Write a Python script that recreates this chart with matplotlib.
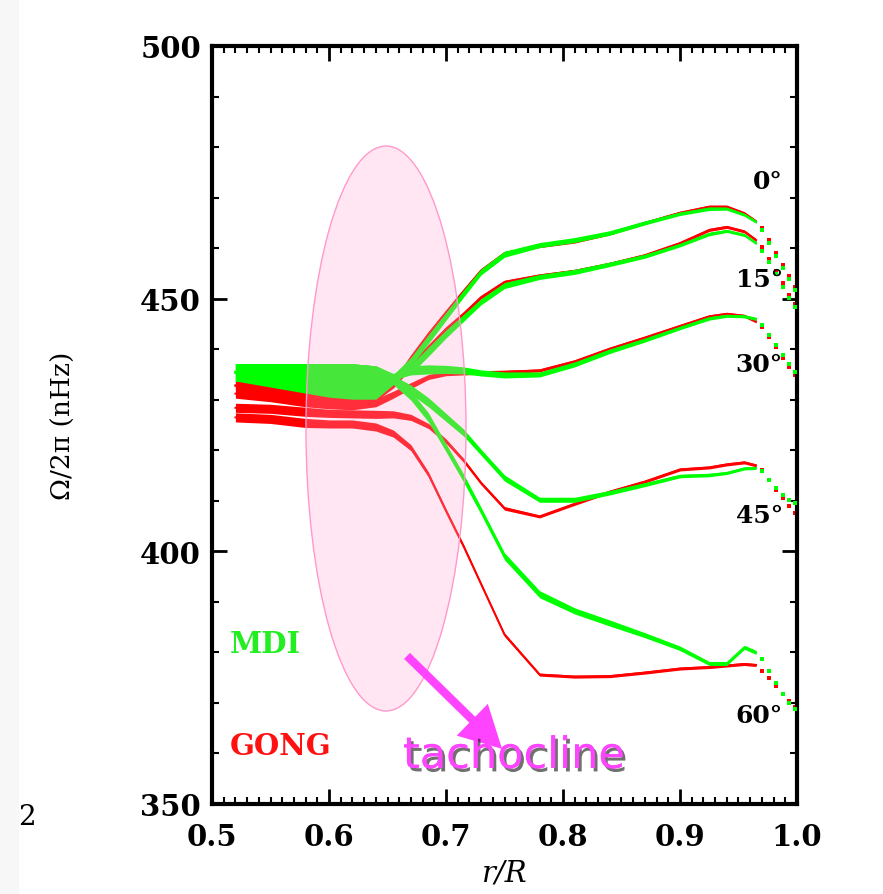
import numpy as np
import matplotlib
matplotlib.use("Agg")
import matplotlib.pyplot as plt
from matplotlib.patches import Ellipse, Rectangle
import matplotlib.patheffects as pe

plt.rcParams["font.family"] = "serif"
plt.rcParams["font.serif"] = ["DejaVu Serif"]

# radius grid (r/R) and rotation rates (nHz) by latitude, with half-widths
r_in = [0.52, 0.55, 0.58, 0.60, 0.62, 0.64, 0.655, 0.67, 0.685, 0.70, 0.715,
        0.73, 0.75, 0.78, 0.81, 0.84, 0.87, 0.90, 0.925, 0.94, 0.955, 0.965]

mdi_00 = [435.4, 435.4, 435.4, 435.4, 435.4, 435.5, 434.4, 437.5, 442.0, 446.5, 451.0,
          455.3, 458.8, 460.6, 461.6, 463.0, 465.0, 466.8, 467.8, 467.8, 466.6, 465.2]
mdi_15 = [435.4, 435.4, 435.4, 435.4, 435.4, 435.5, 434.3, 436.0, 439.5, 443.0, 446.2,
          449.4, 452.6, 454.3, 455.3, 456.8, 458.4, 460.6, 462.8, 463.4, 462.6, 461.0]
mdi_30 = [435.4, 435.4, 435.4, 435.4, 435.4, 435.5, 434.6, 435.8, 436.0, 436.0, 435.8,
          435.3, 434.9, 435.0, 437.0, 439.6, 441.8, 444.2, 446.1, 446.6, 446.5, 446.0]
mdi_45 = [435.4, 435.4, 435.4, 435.4, 435.4, 435.3, 434.2, 432.0, 429.5, 426.5, 423.5,
          419.6, 414.5, 410.2, 410.2, 411.6, 413.2, 414.9, 415.1, 415.5, 416.4, 416.5]
mdi_60 = [435.4, 434.8, 434.2, 433.8, 433.6, 433.4, 434.0, 430.8, 426.5, 420.5, 414.5,
          408.0, 399.0, 391.5, 388.2, 385.8, 383.4, 380.8, 377.8, 377.8, 381.0, 380.0]
mdi_err = [1.7, 1.7, 1.7, 1.7, 1.7, 1.2, 0.6, 0.9, 0.9, 0.8, 0.7,
           0.6, 0.6, 0.5, 0.5, 0.45, 0.4, 0.35, 0.35, 0.3, 0.3, 0.3]
mdi_err60 = [1.7, 2.3, 2.9, 3.3, 3.5, 3.3, 1.0, 0.9, 0.9, 0.8, 0.8,
             0.7, 0.7, 0.7, 0.6, 0.6, 0.5, 0.45, 0.4, 0.4, 0.4, 0.4]

gong_00 = [432.8, 432.2, 431.0, 430.2, 429.8, 430.6, 433.2, 438.3, 443.0, 447.3, 451.5,
           455.6, 459.0, 460.4, 461.3, 462.9, 465.0, 467.0, 468.2, 468.2, 466.9, 465.3]
gong_15 = [432.8, 432.2, 431.0, 430.2, 429.8, 430.6, 433.0, 436.8, 440.4, 444.0, 447.0,
           450.3, 453.3, 454.6, 455.5, 456.9, 458.6, 461.0, 463.6, 464.2, 463.3, 461.6]
gong_30 = [431.2, 430.5, 429.5, 429.0, 428.8, 429.4, 431.0, 432.8, 434.5, 435.2, 435.3,
           435.4, 435.5, 435.8, 437.6, 440.1, 442.3, 444.6, 446.5, 447.0, 446.6, 445.5]
gong_45 = [428.4, 428.2, 427.6, 427.3, 427.2, 427.1, 427.1, 426.5, 424.8, 421.8, 418.0,
           413.5, 408.5, 406.9, 409.4, 411.8, 413.8, 416.2, 416.6, 417.2, 417.6, 417.0]
gong_60 = [426.5, 426.2, 425.4, 425.2, 425.2, 424.6, 423.3, 420.5, 415.2, 408.0, 401.0,
           393.5, 383.5, 375.6, 375.2, 375.3, 376.0, 376.8, 377.1, 377.4, 377.7, 377.5]
gong_err = [0.9, 0.9, 0.9, 0.8, 0.8, 0.8, 0.7, 0.6, 0.5, 0.45, 0.4,
            0.35, 0.35, 0.3, 0.3, 0.3, 0.3, 0.3, 0.3, 0.3, 0.3, 0.3]

# near-surface points (plotted as dots)
r_tail = [0.970, 0.976, 0.982, 0.988, 0.993, 0.998]
mdi_tail = {
    "00": [463.5, 461.0, 458.5, 456.0, 453.8, 451.8],
    "15": [459.5, 457.2, 454.8, 452.4, 450.2, 448.3],
    "30": [444.8, 442.9, 440.9, 438.9, 437.0, 435.4],
    "45": [415.8, 414.2, 412.6, 411.2, 410.2, 409.6],
    "60": [378.6, 376.4, 374.0, 371.8, 370.0, 368.8],
}
gong_tail = {
    "00": [464.0, 461.6, 459.0, 456.6, 454.5, 452.4],
    "15": [460.2, 457.8, 455.4, 453.0, 450.8, 449.0],
    "30": [444.4, 442.4, 440.4, 438.2, 436.5, 434.8],
    "45": [416.0, 414.2, 412.2, 410.5, 409.0, 407.6],
    "60": [376.4, 375.0, 373.4, 371.8, 370.4, 369.2],
}

lat_labels = ["0°", "15°", "30°", "45°", "60°"]
lat_label_y = [473.3, 453.9, 437.1, 407.2, 367.6]

green = "#00ff00"
red = "#ff0000"

fig = plt.figure(figsize=(8.83, 8.95), dpi=100)
ax = fig.add_axes([0.2401, 0.1006, 0.6625, 0.8469])

r = np.array(r_in)


def band(ax, om, err, color):
    om = np.array(om)
    err = np.array(err)
    ax.fill_between(r, om - err, om + err, color=color, lw=0, zorder=2)
    ax.plot(r, om, color=color, lw=1.4, zorder=2)


gong = [gong_00, gong_15, gong_30, gong_45, gong_60]
mdi = [mdi_00, mdi_15, mdi_30, mdi_45, mdi_60]
for om in gong:
    band(ax, om, gong_err, red)
for k in ["00", "15", "30", "45", "60"]:
    ax.plot(r_tail, gong_tail[k], "s", color=red, ms=2.6, mew=0, zorder=2)
for i, om in enumerate(mdi):
    band(ax, om, mdi_err60 if i == 4 else mdi_err, green)
for k in ["00", "15", "30", "45", "60"]:
    ax.plot(r_tail, mdi_tail[k], "s", color=green, ms=2.6, mew=0, zorder=3)

# tachocline region
ell = Ellipse((0.6487, 424.3), 0.1368, 111.8, facecolor=(1.0, 0.66, 0.82, 0.28),
              edgecolor="#ff99cc", lw=1.0, zorder=4)
ax.add_patch(ell)
ax.annotate("", xy=(0.7479, 360.9), xytext=(0.6667, 379.3),
            arrowprops=dict(width=6, headwidth=32, headlength=30, shrink=0,
                            color="#ff44ff", lw=0), zorder=5)
ax.text(0.6632, 359.5, "tachocline", fontsize=31, color="#ff44ff",
        family="DejaVu Sans", ha="left", va="center", zorder=6,
        path_effects=[pe.withSimplePatchShadow(offset=(2, -2.5), shadow_rgbFace="#111111",
                                               alpha=0.6), pe.Normal()])

for lab, y in zip(lat_labels, lat_label_y):
    ax.text(0.988, y, lab, ha="right", va="center", fontsize=18,
            fontweight="bold", zorder=6)

ax.text(0.5154, 381.7, "MDI", color="#22ee22", fontsize=21, fontweight="bold",
        ha="left", va="center")
ax.text(0.5154, 361.5, "GONG", color="#ff1111", fontsize=21, fontweight="bold",
        ha="left", va="center")

ax.set_xlim(0.5, 1.0)
ax.set_ylim(350, 500)
ax.set_xticks(np.arange(0.5, 1.01, 0.1))
ax.set_xticks(np.arange(0.5, 1.001, 0.01), minor=True)
ax.set_xticklabels(["0.5", "0.6", "0.7", "0.8", "0.9", "1.0"])
ax.set_yticks([350, 400, 450, 500])
ax.set_yticks(np.arange(350, 501, 10), minor=True)
ax.tick_params(which="both", direction="in", top=True, right=True,
               labelsize=21)
ax.tick_params(which="major", length=11, width=2)
ax.tick_params(which="minor", length=5, width=1.5)
ax.tick_params(axis="x", pad=13)
ax.tick_params(axis="y", pad=8)
for lab in ax.get_xticklabels() + ax.get_yticklabels():
    lab.set_fontweight("bold")
for s in ax.spines.values():
    s.set_linewidth(3)

ax.set_xlabel("r/R", fontsize=21, fontstyle="italic")
ax.xaxis.set_label_coords(0.501, -0.072)
ax.set_ylabel("Ω/2π (nHz)", fontsize=19)
ax.yaxis.set_label_coords(-0.233, 0.5)

fig.add_artist(Rectangle((0, 0), 18 / 883, 1, transform=fig.transFigure,
                         color="#f7f7f7", zorder=0))
fig.text(18 / 883, 1 - 818 / 895, "2", fontsize=20, ha="left", va="center")

fig.savefig("out.png", dpi=100)
